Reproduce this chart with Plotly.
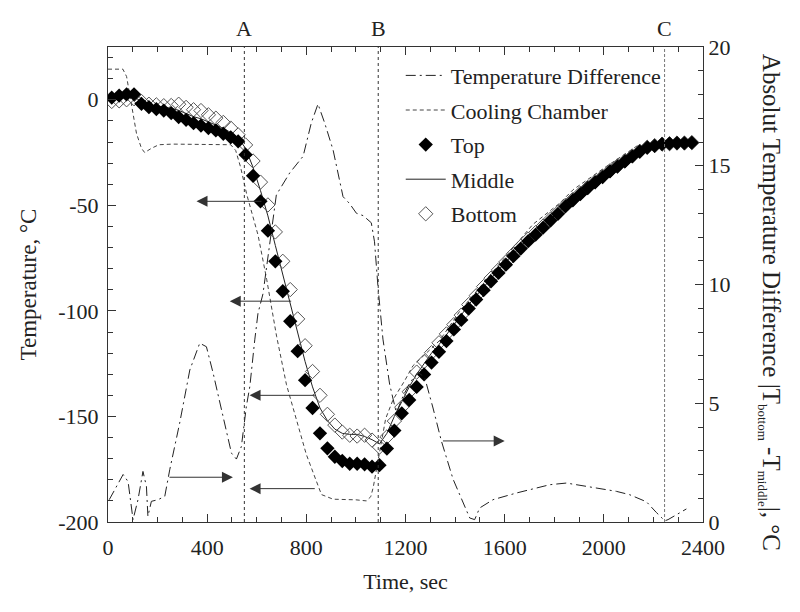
import plotly.graph_objects as go

# ---- Data ----
TIME = [15 + 30 * k for k in range(79)]

TOP = [1, 2, 2.6, 2.6, -1.9, -3.5, -4.4, -5.1, -6.3, -8.2,
       -9.5, -11.1, -12.2, -13.4, -14.5, -16.1, -17.8, -19.7, -26, -36,
       -48.1, -62, -76.5, -90.7, -104.9, -119.1, -132.8, -146, -158, -165.1,
       -169.1, -171.1, -172.4, -172.4, -172.7, -173.8, -173.1, -165.2, -156.7, -148.5,
       -142.2, -136, -130.1, -124.5, -119.4, -114.3, -108.8, -104.3, -98.9, -94.6,
       -90.2, -86, -82, -78.1, -74.1, -70.5, -67, -63.9, -60.6, -57.2,
       -54, -50.5, -47.6, -44.7, -41.8, -39.1, -36.6, -33.9, -31.6, -29.2,
       -26.8, -24.5, -22.6, -21.8, -21, -20.8, -20.5, -20.5, -20.3]

BOTTOM = [-0.8, -0.5, 0, 0.5, -0.8, -2.1, -2.4, -2.8, -2.7, -2.1,
          -3.6, -4.7, -5.1, -7.1, -8.7, -10.7, -13.4, -16.6, -21.4, -29,
          -39, -49.8, -62.6, -76.5, -89.9, -103.8, -116.5, -128.7, -140, -149,
          -154.1, -157.4, -158.9, -159.3, -158.9, -161.2, -164.5, -159.7, -152.2, -145.6,
          -138.3, -129, -124, -119.8, -115.1, -110.9, -106.5, -102, -97, -92.8,
          -88.5, -84.5, -80.6, -76.8, -73, -69.4, -66, -62.9, -59.8, -56.5,
          -53.4, -50, -47.2, -44.3, -41.5, -38.8, -36.3, -33.6, -31.3, -29,
          -26.6, -24.4, -22.5, -21.7, -21, -20.8, -20.5, -20.5, -20.3]

MIDDLE = [0, 0.5, 1, 1.5, -1, -2.5, -3, -3.5, -4, -5,
          -6.5, -8, -9, -10.5, -12, -13.5, -15.5, -18, -23, -32,
          -43, -55, -69, -83, -97, -111, -124, -136, -146, -152,
          -156, -158, -158.5, -158.5, -159.5, -161, -163, -158, -150, -143,
          -136, -130, -125, -120, -116, -111.5, -106.5, -102, -97, -92.8,
          -88.5, -84.5, -80.6, -76.8, -73, -69.4, -66, -62.9, -59.8, -56.5,
          -53.4, -50, -47.2, -44.3, -41.5, -38.8, -36.3, -33.6, -31.3, -29,
          -26.6, -24.4, -22.5, -21.7, -21, -20.8, -20.5, -20.5, -20.3]

CHAMBER_T = [0, 60, 75, 95, 115, 135, 148, 175, 205, 260, 350, 495, 515, 535, 560,
             585, 605, 640, 680, 720, 760, 800, 840, 861, 908, 1000, 1042, 1060, 1070,
             1085, 1100, 1120, 1150, 1197, 1230, 1338, 1420, 1526, 1620, 1714, 1822,
             1876, 2010, 2145]
CHAMBER_V = [14.5, 14.5, 11, -3, -16, -23, -25, -23, -21.3, -21, -21, -21.3, -24, -32, -45,
             -56, -64, -85, -112, -135, -152, -168, -180.5, -187, -189.2, -189.5, -190, -188, -183.5,
             -174, -163, -151, -142, -133, -126, -114, -100, -85, -72, -59, -49,
             -42.6, -31.6, -21]

DIFF_T = [5, 34, 61, 81, 101, 121, 141, 155, 161, 175, 202, 229, 249, 289, 330, 370,
          397, 424, 464, 498, 518, 538, 558, 572, 592, 605, 625, 679, 733, 787, 820, 847,
          874, 908, 948, 975, 1002, 1029, 1062, 1075, 1089, 1109, 1136, 1163, 1190, 1220,
          1250, 1277, 1311, 1345, 1392, 1439, 1459, 1479, 1499, 1553, 1647, 1782, 1849,
          1930, 2051, 2104, 2172, 2212, 2246, 2259, 2293, 2333]
DIFF_V = [0.94, 1.5, 2.0, 1.7, 0.1, 0.94, 2.13, 1.5, 0.24, 0.87, 0.94, 1.08, 2.2, 4.16, 6.4, 7.53,
          7.38, 6.27, 4.44, 2.9, 2.65, 3.18, 4.86, 5.7, 7.67, 8.79, 9.6, 13.77, 14.7, 15.4, 16.8, 17.6,
          16.8, 15.66, 13.7, 13.4, 13.0, 12.9, 12.6, 11.8, 9.9, 7.7, 5.8, 4.6, 5.3, 5.9,
          6.3, 6.1, 4.8, 3.4, 1.8, 0.66, 0.17, 0.1, 0.59, 0.94, 1.22, 1.57, 1.64,
          1.5, 1.29, 1.15, 0.85, 0.4, 0.05, 0.1, 0.3, 0.55]

X_TICKS = [0, 400, 800, 1200, 1600, 2000, 2400]
Y_TICKS = [-200, -150, -100, -50, 0]
Y_TICK_TEXT = ["-200", "-150", "-100", "-50", "0"]
Y2_TICKS = [0, 5, 10, 15, 20]

MARKS = {"A": 550, "B": 1090, "C": 2245}

FONT = "Liberation Serif"
FS = 22

fig = go.Figure()

fig.add_trace(go.Scatter(x=DIFF_T, y=DIFF_V, yaxis="y2", mode="lines",
                         name="Temperature Difference", legendgroup="g1", legendrank=1,
                         line=dict(color="#222222", width=1, dash="10px,4px,2px,4px")))
fig.add_trace(go.Scatter(x=CHAMBER_T, y=CHAMBER_V, mode="lines",
                         name="Cooling Chamber", legendgroup="g2", legendrank=2,
                         line=dict(color="#444444", width=1, dash="4px,3px")))
fig.add_trace(go.Scatter(x=TIME, y=MIDDLE, mode="lines",
                         name="Middle", legendgroup="g4", legendrank=4,
                         line=dict(color="#222222", width=1)))
fig.add_trace(go.Scatter(x=TIME, y=BOTTOM, mode="markers",
                         name="Bottom", legendgroup="g5", legendrank=5,
                         marker=dict(symbol="diamond-open", size=11, color="#555555",
                                     line=dict(width=1, color="#555555"))))
fig.add_trace(go.Scatter(x=TIME, y=TOP, mode="markers",
                         name="Top", legendgroup="g3", legendrank=3,
                         marker=dict(symbol="diamond", size=11, color="black")))

shapes = []
annotations = []
for lab, t in MARKS.items():
    shapes.append(dict(type="line", xref="x", yref="paper", x0=t, x1=t, y0=0, y1=1,
                       line=dict(color="#333333" if lab != "C" else "#777777", width=1,
                                 dash="dot" if lab != "C" else "3px,2px")))
    annotations.append(dict(x=t, y=1, xref="x", yref="paper", text=lab, showarrow=False,
                            yanchor="bottom", yshift=4, font=dict(family=FONT, size=FS, color="#222")))

# arrows: (head_t, tail_t, temperature level)
ARROWS = [(357, 625, -48.1), (491, 745, -95.4), (571, 840, -140), (571, 840, -184.2),
          (504, 242, -178.8), (1600, 1345, -161.6)]
for head, tail, lvl in ARROWS:
    annotations.append(dict(x=head, y=lvl, ax=tail, ay=lvl, xref="x", yref="y",
                            axref="x", ayref="y", showarrow=True, arrowhead=2,
                            arrowsize=2.2, arrowwidth=1, arrowcolor="#333333", text=""))

annotations.append(dict(x=1.113, y=0.463, xref="paper", yref="paper", showarrow=False,
                        textangle=90, xanchor="center", yanchor="middle",
                        text=("Absolut Temperature Difference |T"
                              "<sub><span style='font-size:13px'>bottom</span></sub> -T"
                              "<sub><span style='font-size:13px'>middle</span></sub>|, °C"),
                        font=dict(family=FONT, size=25, color="#222")))

axis_common = dict(showline=True, linecolor="#333333", linewidth=1, ticks="inside",
                   tickcolor="#333333", ticklen=8, showgrid=False, zeroline=False,
                   tickfont=dict(family=FONT, size=FS, color="#222"))

fig.update_layout(
    width=800, height=612,
    margin=dict(l=100, r=105, t=39, b=98),
    paper_bgcolor="white", plot_bgcolor="white",
    font=dict(family=FONT, size=FS, color="#222"),
    xaxis=dict(range=[0, 2400], tickvals=X_TICKS, mirror="ticks", ticklabelstandoff=6,
               minor=dict(dtick=100, ticks="inside", ticklen=5, tickcolor="#333333"),
               title=dict(text="Time, sec", font=dict(family=FONT, size=FS), standoff=14),
               **axis_common),
    yaxis=dict(range=[-200, 25], tickvals=Y_TICKS, ticktext=Y_TICK_TEXT, ticklabelstandoff=4,
               minor=dict(dtick=10, tick0=0, ticks="inside", ticklen=5, tickcolor="#333333"),
               title=dict(text="Temperature, °C", font=dict(family=FONT, size=23), standoff=15),
               **axis_common),
    yaxis2=dict(range=[0, 20], tickvals=Y2_TICKS, overlaying="y", side="right",
                minor=dict(dtick=1, ticks="inside", ticklen=5, tickcolor="#333333"),
                **axis_common),
    legend=dict(x=0.492, y=0.984, xanchor="left", yanchor="top", bgcolor="rgba(0,0,0,0)",
                font=dict(family=FONT, size=FS, color="#222"), tracegroupgap=3,
                itemwidth=40),
    shapes=shapes,
    annotations=annotations,
    showlegend=True,
)

fig.write_html("out.html")
